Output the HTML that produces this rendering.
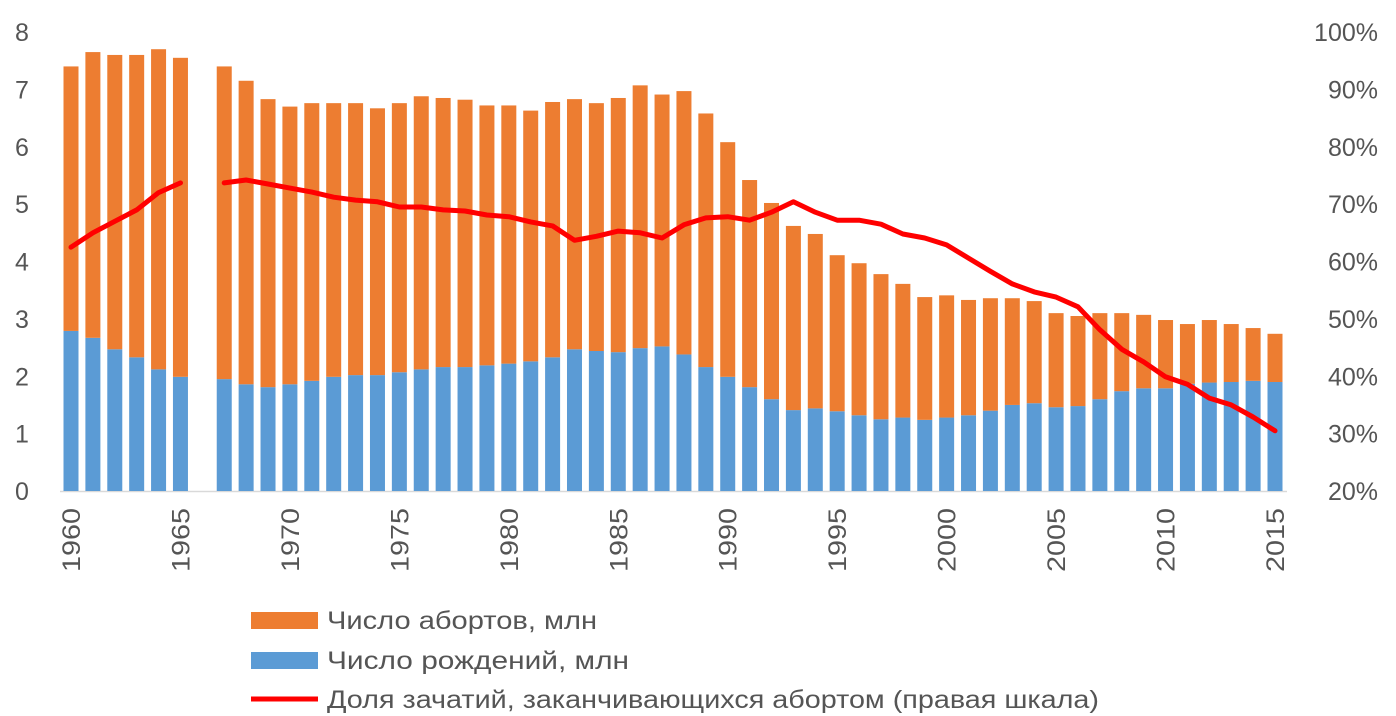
<!DOCTYPE html>
<html><head><meta charset="utf-8">
<style>
html,body{margin:0;padding:0;background:#fff;}
svg{display:block;font-family:"Liberation Sans","DejaVu Sans",sans-serif;}
</style></head>
<body>
<svg id="chart" width="1396" height="716" viewBox="0 0 1396 716"></svg>
<script>
const years = [];
for (let y = 1960; y <= 2015; y++) years.push(y);
const totals = [7.4,7.65,7.6,7.6,7.7,7.55,null,7.4,7.15,6.83,6.7,6.76,6.76,6.76,6.67,6.76,6.88,6.85,6.82,6.72,6.72,6.63,6.78,6.83,6.76,6.85,7.07,6.91,6.97,6.58,6.08,5.42,5.02,4.62,4.48,4.11,3.97,3.78,3.61,3.38,3.41,3.33,3.36,3.36,3.31,3.1,3.05,3.1,3.1,3.07,2.98,2.91,2.98,2.91,2.84,2.74];
const births = [2.79,2.67,2.47,2.33,2.12,1.99,null,1.95,1.86,1.81,1.86,1.92,1.99,2.02,2.02,2.07,2.12,2.16,2.16,2.19,2.22,2.26,2.33,2.47,2.44,2.42,2.49,2.52,2.38,2.16,1.99,1.81,1.6,1.41,1.44,1.39,1.32,1.25,1.28,1.24,1.28,1.32,1.4,1.5,1.53,1.46,1.48,1.6,1.74,1.79,1.79,1.87,1.89,1.9,1.92,1.9];
const share = [62.5,65,67,69,72,73.7,null,73.7,74.2,73.5,72.8,72.1,71.2,70.7,70.4,69.5,69.5,69,68.8,68.1,67.8,66.9,66.2,63.7,64.4,65.3,65,64.1,66.4,67.6,67.8,67.2,68.6,70.4,68.6,67.2,67.2,66.5,64.8,64.1,62.9,60.6,58.3,56.1,54.7,53.8,52.1,48.1,44.7,42.5,39.9,38.6,36.2,35,32.9,30.5];
const leftTicks = [0,1,2,3,4,5,6,7,8];
const rightTicks = [20,30,40,50,60,70,80,90,100];
const yearTicks = [1960,1965,1970,1975,1980,1985,1990,1995,2000,2005,2010,2015];

const NS = "http://www.w3.org/2000/svg";
const svg = document.getElementById('chart');
const x0 = 71, slot = (1275 - 71) / 55, bw = 15;
const yBase = 491, yTop = 32;
const xS = y => x0 + (y - 1960) * slot;
const yL = v => yBase - v / 8 * (yBase - yTop);
const yR = p => yBase - (p - 20) / 80 * (yBase - yTop);
function el(tag, attrs, parent) {
  const e = document.createElementNS(NS, tag);
  for (const k in attrs) e.setAttribute(k, attrs[k]);
  (parent || svg).appendChild(e);
  return e;
}
const txtColor = "#555555";

leftTicks.forEach(t => {
  const e = el('text', {x: 22, y: yL(t) + 9, 'font-size': 25, fill: txtColor, 'text-anchor': 'middle'});
  e.textContent = t;
  
  
});
rightTicks.forEach(t => {
  const e = el('text', {x: 1378, y: yR(t) + 9, 'font-size': 25, fill: txtColor, 'text-anchor': 'end'});
  e.textContent = t + '%';
  
  
});

const axis = el('line', {x1: 60, x2: 1287, y1: yBase + 0.5, y2: yBase + 0.5, stroke: '#d9d9d9', 'stroke-width': 1.5});



years.forEach((y, i) => {
  if (totals[i] == null) return;
  const cx = xS(y);
  const b = el('rect', {x: cx - bw / 2, y: yL(births[i]), width: bw, height: yBase - yL(births[i]), fill: '#5B9BD5'});
  
  
  const a = el('rect', {x: cx - bw / 2, y: yL(totals[i]), width: bw, height: yL(births[i]) - yL(totals[i]), fill: '#ED7D31'});
  
  
});

let d = '', pen = false;
years.forEach((y, i) => {
  if (share[i] == null) { pen = false; return; }
  d += (pen ? 'L' : 'M') + xS(y).toFixed(1) + ' ' + yR(share[i]).toFixed(1) + ' ';
  pen = true;
});
const line = el('path', {d: d, fill: 'none', stroke: '#FF0000', 'stroke-width': 5, 'stroke-linejoin': 'round', 'stroke-linecap': 'round'});



yearTicks.forEach(y => {
  const cx = xS(y);
  const e = el('text', {x: 0, y: 0, 'font-size': 25, fill: txtColor, 'text-anchor': 'end', textLength: 64, lengthAdjust: 'spacingAndGlyphs', transform: `translate(${cx + 9},${508}) rotate(-90)`});
  e.textContent = y;
  
  
});

const leg = el('g', {});


const items = [
  {t: 'Число абортов, млн', c: '#ED7D31', y: 620, type: 'box', n: 'legend-abortions', w: 270},
  {t: 'Число рождений, млн', c: '#5B9BD5', y: 660, type: 'box', n: 'legend-births', w: 302},
  {t: 'Доля зачатий, заканчивающихся абортом (правая шкала)', c: '#FF0000', y: 699, type: 'line', n: 'legend-share', w: 772}
];
items.forEach(it => {
  const g = el('g', {}, leg);
  
  
  if (it.type === 'box') el('rect', {x: 251, y: it.y - 8, width: 67, height: 17, fill: it.c}, g);
  else el('line', {x1: 251, x2: 318, y1: it.y, y2: it.y, stroke: it.c, 'stroke-width': 5}, g);
  const tx = el('text', {x: 327, y: it.y + 9, 'font-size': 25, fill: txtColor, textLength: it.w, lengthAdjust: 'spacingAndGlyphs'}, g);
  tx.textContent = it.t;
});
</script>
</body></html>
